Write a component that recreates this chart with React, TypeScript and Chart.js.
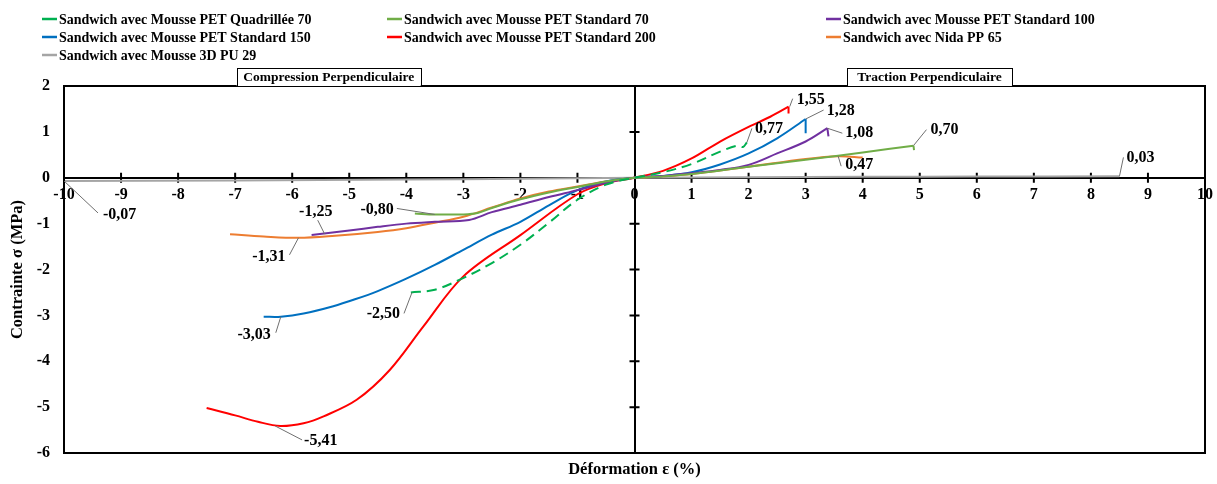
import React, { useEffect, useRef } from 'react';
import { Chart, registerables } from 'chart.js';

Chart.register(...registerables);

// ---------- DATA ----------
const seriesLabels = [
  'Sandwich avec Mousse PET Quadrillée 70',
  'Sandwich avec Mousse PET Standard 70',
  'Sandwich avec Mousse PET Standard 100',
  'Sandwich avec Mousse PET Standard 150',
  'Sandwich avec Mousse PET Standard 200',
  'Sandwich avec Nida PP 65',
  'Sandwich avec Mousse 3D PU 29',
];

// Strain (%) / stress (MPa) for each sandwich
const strainQ70 = [-3.92, -3.5, -3.06, -2.5, -2.0, -1.5, -1.0, -0.5, 0, 0.5, 1.0, 1.5, 1.8, 1.9, 1.97];
const stressQ70 = [-2.5, -2.44, -2.22, -1.86, -1.46, -0.98, -0.48, -0.15, 0, 0.12, 0.3, 0.57, 0.7, 0.67, 0.77];

const strainS70 = [-3.85, -3.5, -3.0, -2.75, -2.5, -2.0, -1.5, -1.0, -0.5, 0, 0.5, 1, 2, 3, 4, 4.89];
const stressS70 = [-0.78, -0.8, -0.8, -0.77, -0.66, -0.47, -0.32, -0.2, -0.08, 0, 0.03, 0.08, 0.24, 0.39, 0.55, 0.7];
const tipS70X = [4.89, 4.9];
const tipS70Y = [0.7, 0.6];

const strainS100 = [-5.66, -5, -4.5, -4, -3.5, -2.9, -2.5, -2, -1.5, -1, -0.5, 0, 0.5, 1, 1.5, 2, 2.5, 3, 3.38];
const stressS100 = [-1.25, -1.15, -1.07, -1.0, -0.96, -0.92, -0.75, -0.59, -0.42, -0.27, -0.11, 0, 0.04, 0.1, 0.17, 0.28, 0.53, 0.79, 1.08];
const tipS100X = [3.38, 3.4];
const tipS100Y = [1.08, 0.9];

const strainS150 = [-6.5, -6.2, -5.8, -5.28, -4.9, -4.5, -4, -3.5, -3, -2.5, -2, -1.5, -1, -0.5, 0, 0.5, 1, 1.5, 2, 2.5, 3.0];
const stressS150 = [-3.03, -3.03, -2.96, -2.8, -2.65, -2.47, -2.2, -1.9, -1.57, -1.24, -0.96, -0.6, -0.27, -0.08, 0, 0.04, 0.12, 0.29, 0.53, 0.86, 1.28];
const tipS150X = [3.0, 3.0];
const tipS150Y = [1.28, 0.97];

const strainS200 = [-7.5, -7.0, -6.6, -6.21, -5.8, -5.45, -4.87, -4.29, -3.7, -3.0, -2.0, -1.0, -0.5, 0, 0.5, 1, 1.5, 2, 2.38, 2.7];
const stressS200 = [-5.02, -5.18, -5.32, -5.41, -5.35, -5.2, -4.84, -4.19, -3.24, -2.15, -1.25, -0.36, -0.12, 0, 0.15, 0.42, 0.79, 1.11, 1.33, 1.55];
const tipS200X = [2.7, 2.7];
const tipS200Y = [1.55, 1.4];

const strainPP65 = [-7.09, -6.5, -5.89, -5.3, -4.5, -4, -3.5, -3, -2.5, -2, -1.5, -1, -0.5, 0, 0.5, 1, 2, 3, 3.57, 4.0];
const stressPP65 = [-1.23, -1.28, -1.31, -1.27, -1.18, -1.1, -0.98, -0.85, -0.65, -0.45, -0.3, -0.19, -0.08, 0, 0.03, 0.08, 0.24, 0.41, 0.47, 0.44];

const strainPU29 = [-10, -7, -4, -2, 0, 2, 4, 6, 8.5];
const stressPU29 = [-0.07, -0.06, -0.04, -0.02, 0, 0.01, 0.02, 0.025, 0.03];

const xTicks = [-10, -9, -8, -7, -6, -5, -4, -3, -2, -1, 0, 1, 2, 3, 4, 5, 6, 7, 8, 9, 10];
const yTicks = [-6, -5, -4, -3, -2, -1, 0, 1, 2];

// value labels: text, anchor strain, anchor stress
const noteTexts = ['-0,07', '-1,25', '-1,31', '-0,80', '-3,03', '-2,50', '-5,41', '1,55', '1,28', '1,08', '0,70', '0,47', '0,77', '0,03'];
const noteX = [-10, -5.43, -5.89, -3.5, -6.2, -3.9, -6.3, 2.72, 3.0, 3.38, 4.89, 3.57, 1.97, 8.5];
const noteY = [-0.07, -1.23, -1.31, -0.8, -3.03, -2.5, -5.41, 1.55, 1.28, 1.08, 0.7, 0.47, 0.77, 0.03];

const panelTexts = ['Compression Perpendiculaire', 'Traction Perpendiculaire'];
const panelCenters = [-5.36, 5.17];

// ---------- STYLE ----------
const colors = ['#00b050', '#70ad47', '#7030a0', '#0070c0', '#ff0000', '#ed7d31', '#a5a5a5'];
const panelWidths = [184, 165];
// leader offset (lx,ly), text offset (tx,ty), alignment
const noteLayout = [
  [34, 32, 39, 34, 'left'],
  [-7, -14, -9, -22, 'center'],
  [-9, 17, -13, 19, 'right'],
  [-38, -6, -41, -5, 'right'],
  [-5, 16, -10, 18, 'right'],
  [-8, 21, -12, 21, 'right'],
  [27, 14, 29, 15, 'left'],
  [3, -8, 7, -7, 'left'],
  [18, -9, 21, -8, 'left'],
  [15, 5, 18, 5, 'left'],
  [13, -16, 17, -16, 'left'],
  [3, 10, 7, 9, 'left'],
  [5, -14, 8, -14, 'left'],
  [4, -19, 7, -19, 'left'],
];
const legendCols = [42, 387, 826];
const legendRows = [19, 37, 55];
const SERIF = '"Liberation Serif", "Times New Roman", serif';

const pts = (xs: number[], ys: number[]) => xs.map((x, i) => ({ x, y: ys[i] }));

const decorPlugin = {
  id: 'decor',
  beforeDatasetsDraw(chart: any) {
    const { ctx, scales } = chart;
    const x = scales.x, y = scales.y;
    const x0 = x.getPixelForValue(0), y0 = y.getPixelForValue(0);
    ctx.save();
    ctx.strokeStyle = '#000';
    ctx.lineWidth = 2;
    ctx.beginPath();
    xTicks.forEach((v) => {
      if (v === 0) return;
      const px = x.getPixelForValue(v);
      ctx.moveTo(px, y0 - 5);
      ctx.lineTo(px, y0 + 5);
    });
    yTicks.forEach((v) => {
      if (v === 0) return;
      const py = y.getPixelForValue(v);
      ctx.moveTo(x0 - 5, py);
      ctx.lineTo(x0 + 5, py);
    });
    ctx.stroke();
    ctx.restore();
  },
  afterDraw(chart: any) {
    const { ctx, chartArea: a, scales } = chart;
    const x = scales.x, y = scales.y;
    ctx.save();
    // frame
    ctx.strokeStyle = '#000';
    ctx.lineWidth = 2;
    ctx.strokeRect(a.left, a.top, a.right - a.left, a.bottom - a.top);

    // panel captions
    ctx.font = 'bold 13.5px ' + SERIF;
    ctx.textAlign = 'center';
    ctx.textBaseline = 'middle';
    panelTexts.forEach((t, i) => {
      const cx = x.getPixelForValue(panelCenters[i]);
      const w = panelWidths[i];
      const h = 18;
      ctx.fillStyle = '#fff';
      ctx.fillRect(cx - w / 2, a.top - h, w, h);
      ctx.lineWidth = 1;
      ctx.strokeStyle = '#000';
      ctx.strokeRect(Math.round(cx - w / 2) + 0.5, a.top - h + 0.5, Math.round(w), h);
      ctx.fillStyle = '#000';
      ctx.fillText(t, cx, a.top - h / 2 + 1);
    });

    // value notes
    ctx.font = 'bold 16px ' + SERIF;
    ctx.textBaseline = 'middle';
    noteTexts.forEach((t, i) => {
      const [lx, ly, tx, ty, al] = noteLayout[i] as any;
      const ax = x.getPixelForValue(noteX[i]);
      const ay = y.getPixelForValue(noteY[i]);
      ctx.strokeStyle = '#6f6f6f';
      ctx.lineWidth = 1;
      ctx.beginPath();
      ctx.moveTo(ax, ay);
      ctx.lineTo(ax + lx, ay + ly);
      ctx.stroke();
      ctx.fillStyle = '#000';
      ctx.textAlign = al;
      ctx.fillText(t, ax + tx, ay + ty);
    });

    // legend
    ctx.font = 'bold 14px ' + SERIF;
    ctx.textAlign = 'left';
    ctx.textBaseline = 'middle';
    seriesLabels.forEach((t, i) => {
      const lx = legendCols[i % 3];
      const ly = legendRows[Math.floor(i / 3)];
      ctx.strokeStyle = colors[i];
      ctx.lineWidth = 2.5;
      ctx.beginPath();
      ctx.moveTo(lx, ly);
      ctx.lineTo(lx + 15, ly);
      ctx.stroke();
      ctx.fillStyle = '#000';
      ctx.fillText(t, lx + 17, ly + 1);
    });
    ctx.restore();
  },
};

export default function App() {
  const ref = useRef<HTMLCanvasElement>(null);
  useEffect(() => {
    if (!ref.current) return;
    const main = (label: string, data: any[], i: number, dash?: number[]) => ({
      label,
      data,
      borderColor: colors[i],
      backgroundColor: colors[i],
      borderWidth: 2,
      borderDash: dash || [],
      pointRadius: 0,
      tension: 0.35,
      fill: false,
      showLine: true,
    });
    const tip = (data: any[], i: number) => ({
      label: '',
      data,
      borderColor: colors[i],
      backgroundColor: colors[i],
      borderWidth: 2,
      pointRadius: 0,
      tension: 0,
      showLine: true,
    });
    const tickFont = { family: SERIF, size: 16, weight: 'bold' as const };
    const titleFont = { family: SERIF, size: 16.5, weight: 'bold' as const };
    const noSidePad = (s: any) => { s.paddingLeft = 0; s.paddingRight = 0; };
    const chart = new Chart(ref.current, {
      type: 'scatter',
      data: {
        datasets: [
          main(seriesLabels[0], pts(strainQ70, stressQ70), 0, [10, 6]),
          main(seriesLabels[1], pts(strainS70, stressS70), 1),
          main(seriesLabels[2], pts(strainS100, stressS100), 2),
          main(seriesLabels[3], pts(strainS150, stressS150), 3),
          main(seriesLabels[4], pts(strainS200, stressS200), 4),
          main(seriesLabels[5], pts(strainPP65, stressPP65), 5),
          main(seriesLabels[6], pts(strainPU29, stressPU29), 6),
          tip(pts(tipS70X, tipS70Y), 1),
          tip(pts(tipS100X, tipS100Y), 2),
          tip(pts(tipS150X, tipS150Y), 3),
          tip(pts(tipS200X, tipS200Y), 4),
        ] as any,
      },
      options: {
        animation: false,
        responsive: false,
        layout: { padding: { left: 0, top: 86, right: 12, bottom: 0 } },
        plugins: { legend: { display: false }, tooltip: { enabled: false } },
        scales: {
          x: {
            type: 'linear',
            position: { y: 0 } as any,
            min: -10,
            max: 10,
            afterBuildTicks: (s: any) => { s.ticks = xTicks.map((v) => ({ value: v })); },
            ticks: { color: '#000', font: tickFont, padding: 8, maxRotation: 0, autoSkip: false },
            grid: { display: false, drawTicks: false },
            border: { display: true, color: '#000', width: 2 },
            afterFit: noSidePad,
          },
          xb: {
            type: 'linear',
            position: 'bottom',
            min: -10,
            max: 10,
            ticks: { display: false },
            grid: { display: false, drawTicks: false },
            border: { display: false },
            title: {
              display: true,
              text: 'Déformation ε (%)',
              color: '#000',
              font: titleFont,
              padding: { top: 0, bottom: 4 },
            },
            afterFit: (s: any) => { s.height = 31; s.paddingLeft = 0; s.paddingRight = 0; },
          },
          y: {
            type: 'linear',
            position: 'left',
            min: -6,
            max: 2,
            afterBuildTicks: (s: any) => { s.ticks = yTicks.map((v) => ({ value: v })); },
            ticks: { color: '#000', font: tickFont, padding: 14 },
            grid: { display: false, drawTicks: false },
            border: { display: false },
            title: {
              display: true,
              text: 'Contrainte σ (MPa)',
              color: '#000',
              font: titleFont,
              padding: { top: 8, bottom: 0 },
            },
            afterFit: (s: any) => { s.width = 64; },
          },
          yc: {
            type: 'linear',
            position: { x: 0 } as any,
            min: -6,
            max: 2,
            ticks: { display: false },
            grid: { display: false, drawTicks: false },
            border: { display: true, color: '#000', width: 2 },
          },
        },
      } as any,
      plugins: [decorPlugin],
    });
    return () => chart.destroy();
  }, []);
  return (
    <div style={{ position: 'absolute', left: 0, top: 0, width: 1217, height: 484, background: '#fff' }}>
      <canvas ref={ref} width={1217} height={484} style={{ display: 'block' }} />
    </div>
  );
}
